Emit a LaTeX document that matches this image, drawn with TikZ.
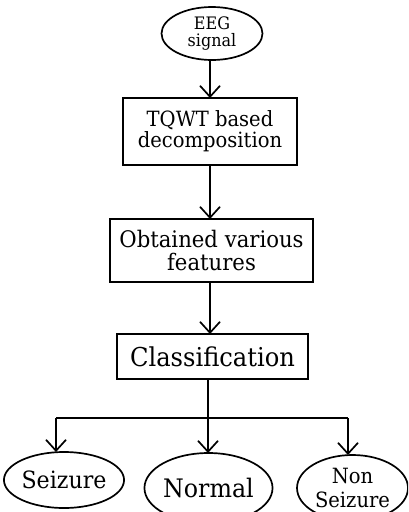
\documentclass[tikz,border=0pt]{standalone}
\usepackage{fontspec}
\setmainfont{DejaVu Serif}[FakeStretch=0.93]
\usetikzlibrary{shapes.geometric,arrows.meta}
\begin{document}
\begin{tikzpicture}[x=1pt,y=-1pt,
  every node/.style={inner sep=0pt,outer sep=0pt,line width=1.7pt,align=center},
  boxnode/.style={draw,rectangle},
  ovalnode/.style={draw,ellipse},
  conn/.style={line width=1.7pt},
  arr/.style={conn,-{Straight Barb[length=11pt,width=20pt,line width=1.7pt]}}]
\useasboundingbox (0,0) rectangle (408,512);
\clip (0,0) rectangle (408,512);
\node[ovalnode,minimum width=101pt,minimum height=53pt,font=\fontsize{17.2}{17.5}\selectfont] (eeg) at (212,33.5) {EEG\\signal};
\node[boxnode,minimum width=174pt,minimum height=67pt,font=\fontsize{21}{21}\selectfont] (tqwt) at (210,131.5) {TQWT based\\decomposition};
\node[boxnode,minimum width=203pt,minimum height=63pt,font=\fontsize{22.8}{22.5}\selectfont] (feat) at (211.5,250.5) {Obtained various\\features};
\node[boxnode,minimum width=191pt,minimum height=45pt,font=\fontsize{26}{26}\selectfont] (cls) at (212.5,356.5) {Classification};
\node[ovalnode,minimum width=108pt,minimum height=56pt,font=\fontsize{23.8}{24}\selectfont] (seiz) at (64,480) {Seizure};
\node[ovalnode,minimum width=117pt,minimum height=70pt,font=\fontsize{25.5}{25}\selectfont] (norm) at (208.5,488) {Normal};
\node[ovalnode,minimum width=111pt,minimum height=66pt,font=\fontsize{21}{24}\selectfont] (nons) at (352.5,488) {Non\\Seizure};
\coordinate (jc) at (208,418);
\coordinate (jl) at (56,418);
\coordinate (jr) at (348,418);
\draw[arr] (eeg.south -| 210,0) -- (tqwt.north -| 210,0);
\draw[arr] (tqwt.south -| 210,0) -- (feat.north -| 210,0);
\draw[arr] (feat.south -| 210,0) -- (cls.north -| 210,0);
\draw[conn] (cls.south -| jc) -- (jc);
\draw[conn] (jl) -- (jr);
\draw[arr] (jl) -- (seiz.north -| jl);
\draw[arr] (jc) -- (norm.north -| jc);
\draw[arr] (jr) -- (nons.north -| jr);
\end{tikzpicture}
\end{document}
